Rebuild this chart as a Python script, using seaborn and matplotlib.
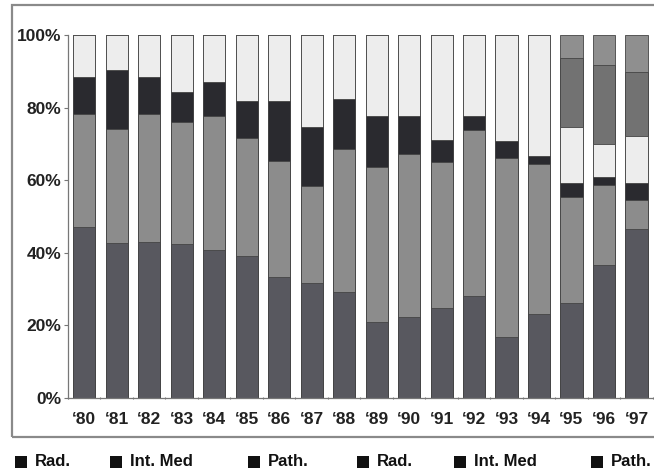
import matplotlib
matplotlib.use("Agg")
import matplotlib.pyplot as plt
import seaborn as sns
import numpy as np
from matplotlib.patches import Rectangle

years = ["\u201880", "\u201881", "\u201882", "\u201883", "\u201884", "\u201885",
         "\u201886", "\u201887", "\u201888", "\u201889", "\u201890", "\u201891",
         "\u201892", "\u201893", "\u201894", "\u201895", "\u201896", "\u201897"]

# shares in percent, bottom to top
rad_1 = [47.2, 42.7, 43.1, 42.5, 40.8, 39.2, 33.2, 31.7, 29.1, 20.9, 22.2, 24.7, 28.0, 16.9, 23.1, 26.3, 36.7, 46.5]
intmed_1 = [31.0, 31.5, 35.1, 33.6, 37.0, 32.5, 32.1, 26.7, 39.4, 42.7, 44.9, 40.3, 45.9, 49.3, 41.3, 29.2, 22.1, 8.1]
path_1 = [10.1, 16.2, 10.3, 8.2, 9.2, 10.0, 16.4, 16.2, 13.8, 14.1, 10.6, 6.1, 3.8, 4.5, 2.3, 3.8, 2.0, 4.7]
rad_2 = [11.7, 9.6, 11.5, 15.7, 13.0, 18.3, 18.3, 25.4, 17.7, 22.3, 22.3, 28.9, 22.3, 29.3, 33.3, 15.3, 9.3, 12.9]
intmed_2 = [0, 0, 0, 0, 0, 0, 0, 0, 0, 0, 0, 0, 0, 0, 0, 19.1, 21.7, 17.6]
path_2 = [0, 0, 0, 0, 0, 0, 0, 0, 0, 0, 0, 0, 0, 0, 0, 6.3, 8.2, 10.2]

legend_labels = ["Rad.", "Int. Med", "Path.", "Rad.", "Int. Med", "Path."]
colors = ["#58585f", "#8c8c8c", "#2a2a2f", "#ededed", "#727272", "#8f8f8f"]

sns.set_theme(style="ticks")
plt.rcParams["font.family"] = ["Liberation Sans Narrow", "Liberation Sans", "DejaVu Sans"]

fig = plt.figure(figsize=(6.54, 4.75), dpi=100)
ax = fig.add_axes([68 / 654, 77 / 475, 586 / 654, 363 / 475])

series = [rad_1, intmed_1, path_1, rad_2, intmed_2, path_2]
cum = np.cumsum(np.array(series), axis=0)

# draw tallest cumulative first so lower segments sit on top
for i in range(len(series) - 1, -1, -1):
    sns.barplot(x=years, y=cum[i], color=colors[i], saturation=1, width=0.68,
                edgecolor="#444444", linewidth=0.6, errorbar=None, ax=ax)

ax.set_xlim(-0.49, 17.54)
ax.set_ylim(0, 100)
ax.set_yticks([0, 20, 40, 60, 80, 100])
ax.set_yticklabels(["0%", "20%", "40%", "60%", "80%", "100%"], fontweight="bold")
ax.set_xlabel("")
ax.set_ylabel("")
ax.set_xticks(np.arange(-0.5, 18, 1), minor=True)
ax.tick_params(axis="y", labelsize=12.5, length=3, width=0.8, pad=2, color="#777777", labelcolor="#222222")
ax.tick_params(axis="x", which="major", labelsize=12.5, length=0, pad=10, labelcolor="#222222")
ax.tick_params(axis="x", which="minor", length=2, width=0.8, color="#777777", direction="inout")
for lab in ax.get_xticklabels():
    lab.set_fontweight("bold")
sns.despine(ax=ax)
for side in ["left", "bottom"]:
    ax.spines[side].set_color("#777777")
    ax.spines[side].set_linewidth(0.9)

# outer frame around the chart
fig.patches.append(Rectangle((12 / 654, 1 - 437 / 475), 1.0, (437 - 5) / 475,
                             transform=fig.transFigure, fill=False,
                             edgecolor="#8a8a8a", linewidth=1.6))

# legend row under the frame
square_x = [15, 110, 248, 357, 454, 591]
for label, sx in zip(legend_labels, square_x):
    fig.patches.append(Rectangle((sx / 654, 1 - 468 / 475), 12 / 654, 12 / 475,
                                 transform=fig.transFigure, facecolor="#111111",
                                 edgecolor="none"))
    fig.text((sx + 20) / 654, 1 - 462 / 475, label, ha="left", va="center",
             family=["Liberation Sans", "DejaVu Sans"], fontweight="bold",
             fontsize=12, color="#111111")

fig.savefig("out.png", dpi=100)
